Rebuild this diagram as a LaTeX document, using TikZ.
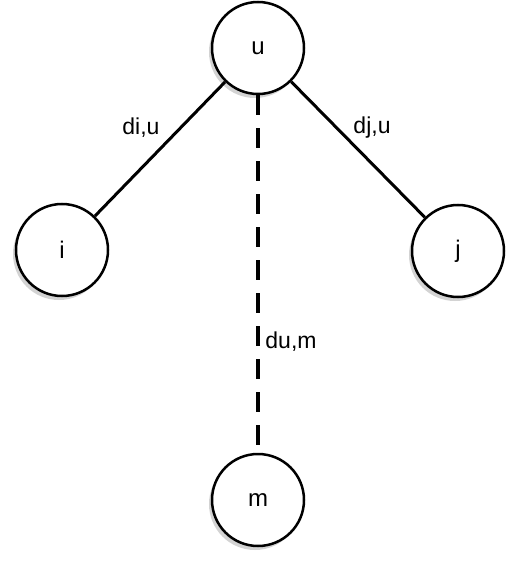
\documentclass[tikz,border=0pt]{standalone}
\usepackage{fontspec}
\setmainfont{Liberation Sans}
\usetikzlibrary{shadows}
\begin{document}
\begin{tikzpicture}[x=1pt,y=-1pt,
  vertex/.style={circle,draw=black,line width=2.5pt,fill=white,minimum size=92pt,inner sep=0pt,
    font=\fontsize{24}{28}\selectfont,
    drop shadow={shadow xshift=-3pt,shadow yshift=-4pt,opacity=0.35,fill=gray}},
  edge/.style={line width=3pt,black},
  dashedge/.style={line width=4pt,black,dash pattern=on 20pt off 13pt},
  lbl/.style={font=\fontsize{23}{27}\selectfont,inner sep=0pt}]
\useasboundingbox (0,0) rectangle (505,569);
\node[vertex] (u) at (258,48) {u};
\node[vertex] (i) at (62,250) {i};
\node[vertex] (j) at (458,251) {j};
\node[vertex] (m) at (258,500) {m};
\draw[edge] (u) -- (i);
\draw[edge] (u) -- (j);
\draw[dashedge] (u.south) -- (m.north);
\node[lbl] (lab1) at (141,128) {di,u};
\node[lbl] (lab2) at (372,128) {dj,u};
\node[lbl] (lab3) at (291,342) {du,m};
\end{tikzpicture}
\end{document}
